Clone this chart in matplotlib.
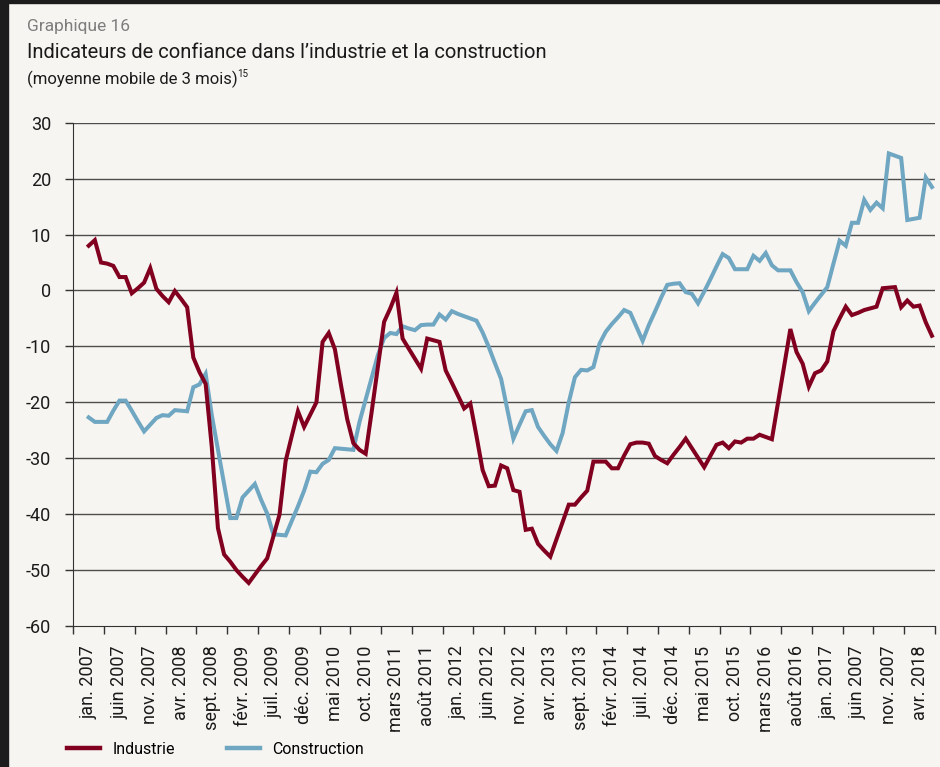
import matplotlib
matplotlib.use("Agg")
import matplotlib.pyplot as plt
from matplotlib.patches import Rectangle
from matplotlib.lines import Line2D
import numpy as np

plt.rcParams["font.family"] = ["Roboto", "DejaVu Sans"]

BG = "#f7f5f1"
RED = "#82001f"
BLUE = "#6fa6c2"
GRID = "#4d4d4d"

# month index 0 = jan. 2007 ; 3-month moving average starts at index 2
START = 2

industrie = [
    8.0, 9.0, 5.0, 4.8, 4.4, 2.4, 2.4, -0.5, 0.4, 1.4,
    4.0, 0.3, -1.0, -2.1, -0.1, -1.5, -3.0, -12.0, -14.6, -16.7,
    -28.0, -42.5, -47.2, -48.5, -50.0, -51.2, -52.3, -50.8, -49.3, -47.9,
    -44.0, -40.1, -30.5, -26.0, -21.6, -24.4, -22.2, -20.0, -9.2, -7.6,
    -10.5, -17.0, -23.0, -27.3, -28.5, -29.2, -21.5, -13.5, -5.6, -3.2,
    -0.4, -8.6, -10.4, -12.2, -14.0, -8.6, -8.9, -9.2, -14.3, -16.5,
    -18.8, -21.1, -20.2, -26.0, -32.1, -35.0, -34.9, -31.3, -31.8, -35.7,
    -36.0, -42.8, -42.6, -45.3, -46.5, -47.6, -44.5, -41.4, -38.3, -38.3,
    -37.0, -35.8, -30.6, -30.6, -30.6, -31.8, -31.8, -29.5, -27.5, -27.2,
    -27.2, -27.4, -29.6, -30.3, -30.9, -29.4, -28.0, -26.5, -28.2, -29.9,
    -31.6, -29.6, -27.6, -27.2, -28.2, -27.0, -27.2, -26.5, -26.5, -25.8,
    -26.2, -26.6, -20.0, -13.5, -6.9, -11.0, -13.1, -17.2, -14.8, -14.3,
    -12.7, -7.3, -5.0, -2.9, -4.4, -4.0, -3.5, -3.2, -2.9, 0.4,
    0.5, 0.6, -3.0, -1.8, -2.9, -2.7, -5.7, -8.1,
]

construction = [
    -22.7, -23.5, -23.5, -23.5, -21.5, -19.7, -19.7, -21.5, -23.4, -25.2,
    -24.0, -22.8, -22.3, -22.4, -21.4, -21.5, -21.6, -17.3, -16.8, -14.9,
    -22.3, -28.5, -34.6, -40.7, -40.7, -37.0, -35.8, -34.6, -37.4, -39.9,
    -43.6, -43.7, -43.8, -41.2, -38.6, -35.8, -32.4, -32.5, -31.0, -30.3,
    -28.2, -28.3, -28.4, -28.5, -23.5, -19.5, -15.5, -11.5, -8.5, -7.6,
    -7.8, -6.4, -6.8, -7.1, -6.2, -6.1, -6.1, -4.3, -5.2, -3.7,
    -4.2, -4.6, -5.0, -5.4, -7.5, -10.1, -13.0, -15.8, -21.2, -26.5,
    -24.0, -21.6, -21.4, -24.4, -26.0, -27.5, -28.7, -25.5, -20.0, -15.5,
    -14.2, -14.3, -13.7, -9.5, -7.4, -6.0, -4.8, -3.5, -4.0, -6.5,
    -9.0, -6.2, -3.8, -1.3, 1.0, 1.2, 1.3, -0.3, -0.6, -2.3,
    -0.2, 2.0, 4.3, 6.5, 5.8, 3.8, 3.8, 3.8, 6.2, 5.3,
    6.7, 4.5, 3.6, 3.6, 3.6, 1.5, -0.3, -3.7, -2.2, -0.8,
    0.6, 4.8, 8.9, 8.0, 12.1, 12.1, 16.2, 14.4, 15.7, 14.7,
    24.5, 24.1, 23.7, 12.6, 12.8, 13.0, 20.2, 18.5,
]

tick_labels = [
    "jan. 2007", "juin 2007", "nov. 2007", "avr. 2008", "sept. 2008",
    "févr. 2009", "juil. 2009", "déc. 2009", "mai 2010", "oct. 2010",
    "mars 2011", "août 2011", "jan. 2012", "juin 2012", "nov. 2012",
    "avr. 2013", "sept. 2013", "févr. 2014", "juil. 2014", "déc. 2014",
    "mai 2015", "oct. 2015", "mars 2016", "août 2016", "jan. 2017",
    "juin 2007", "nov. 2007", "avr. 2018",
]

n_months = 140
x = np.arange(START, START + len(industrie))

fig = plt.figure(figsize=(9.4, 7.67), dpi=100, facecolor=BG)
ax = fig.add_axes([73.3 / 940, 1 - 626 / 767, (935 - 73.3) / 940, (626 - 122.7) / 767])
ax.set_facecolor(BG)

for v in range(-50, 31, 10):
    ax.axhline(v, color=GRID, lw=1.0, zorder=1)

ax.plot(x, industrie, color=RED, lw=2.9, zorder=3, solid_joinstyle="miter")
ax.plot(x, construction, color=BLUE, lw=2.9, zorder=2, solid_joinstyle="miter")

ax.set_xlim(-0.5, n_months - 0.5)
ax.set_ylim(-60, 30)
ax.set_yticks(range(-60, 31, 10))
ax.set_yticklabels([str(v) for v in range(-60, 31, 10)])

ax.set_xticks(np.arange(-0.5, n_months, 5))
ax.set_xticklabels([])
ax.set_xticks(np.arange(2, n_months, 5), minor=True)
ax.set_xticklabels(tick_labels, minor=True, rotation=90, va="top", ha="center")

ax.tick_params(axis="x", which="major", length=6, width=1, color="#333333", direction="out")
ax.tick_params(axis="x", which="minor", length=0, pad=14, labelsize=13, labelcolor="#1a1a1a")
ax.tick_params(axis="y", length=6, width=1, color="#333333", pad=10, labelsize=13, labelcolor="#1a1a1a")

for side in ["top", "right"]:
    ax.spines[side].set_visible(False)
ax.spines["left"].set_color("#333333")
ax.spines["bottom"].set_color("#333333")

fig.text(27 / 940, 1 - 31 / 767, "Graphique 16", fontsize=12.5, color="#7d7d7d", va="baseline")
fig.text(27 / 940, 1 - 58 / 767, "Indicateurs de confiance dans l\u2019industrie et la construction",
         fontsize=14.5, color="#1a1a1a", va="baseline")
sub = fig.text(27 / 940, 1 - 84 / 767, "(moyenne mobile de 3 mois)", fontsize=12,
               color="#1a1a1a", va="baseline")
ax.annotate("15", xy=(1.0, 0.8), xycoords=sub, fontsize=7, color="#1a1a1a",
            ha="left", va="center", annotation_clip=False)

handles = [Line2D([], [], color=RED, lw=3.2), Line2D([], [], color=BLUE, lw=3.2)]
fig.legend(handles, ["Industrie", "Construction"], loc="center left",
           bbox_to_anchor=(67 / 940, 1 - 749 / 767), ncol=2, frameon=False,
           handlelength=2.05, handletextpad=0.8, columnspacing=3.25,
           fontsize=11.5, borderpad=0, borderaxespad=0)

# dark frame edges of the original panel
fig.patches.append(Rectangle((0, 0), 8 / 940, 1, transform=fig.transFigure,
                             color="#1c1c1c", zorder=10))
fig.patches.append(Rectangle((0, 1 - 3 / 767), 1, 3 / 767, transform=fig.transFigure,
                             color="#1c1c1c", zorder=10))

fig.savefig("out.png", dpi=100, facecolor=BG)
